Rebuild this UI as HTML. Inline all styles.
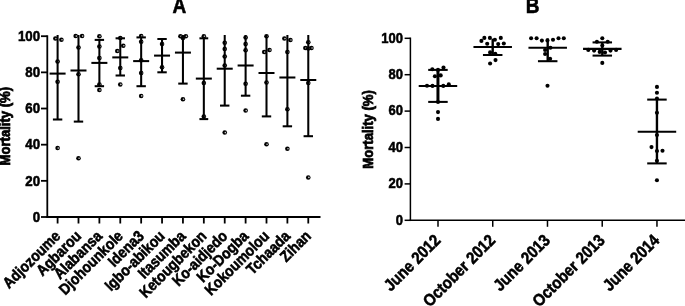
<!DOCTYPE html>
<html><head><meta charset="utf-8"><title>Mortality</title>
<style>
html,body{margin:0;padding:0;background:#fff;}
svg{display:block}
text{font-family:"Liberation Sans",Arial,Helvetica,sans-serif;font-weight:bold;fill:#000}
</style></head><body>
<svg width="685" height="306" viewBox="0 0 685 306">
<rect width="685" height="306" fill="#fff"/>
<line x1="47.30" y1="35.30" x2="47.30" y2="217.90" stroke="#000" stroke-width="1.8"/>
<line x1="46.40" y1="217.00" x2="320.50" y2="217.00" stroke="#000" stroke-width="1.8"/>
<line x1="41.00" y1="217.00" x2="47.30" y2="217.00" stroke="#000" stroke-width="1.8"/>
<text transform="translate(40.10 221.70) scale(1 1.13)" font-size="13.3" text-anchor="end" stroke="#000" stroke-width="0.5">0</text>
<line x1="41.00" y1="180.84" x2="47.30" y2="180.84" stroke="#000" stroke-width="1.8"/>
<text transform="translate(40.10 185.54) scale(1 1.13)" font-size="13.3" text-anchor="end" stroke="#000" stroke-width="0.5">20</text>
<line x1="41.00" y1="144.68" x2="47.30" y2="144.68" stroke="#000" stroke-width="1.8"/>
<text transform="translate(40.10 149.38) scale(1 1.13)" font-size="13.3" text-anchor="end" stroke="#000" stroke-width="0.5">40</text>
<line x1="41.00" y1="108.52" x2="47.30" y2="108.52" stroke="#000" stroke-width="1.8"/>
<text transform="translate(40.10 113.22) scale(1 1.13)" font-size="13.3" text-anchor="end" stroke="#000" stroke-width="0.5">60</text>
<line x1="41.00" y1="72.36" x2="47.30" y2="72.36" stroke="#000" stroke-width="1.8"/>
<text transform="translate(40.10 77.06) scale(1 1.13)" font-size="13.3" text-anchor="end" stroke="#000" stroke-width="0.5">80</text>
<line x1="41.00" y1="36.20" x2="47.30" y2="36.20" stroke="#000" stroke-width="1.8"/>
<text transform="translate(40.10 40.90) scale(1 1.13)" font-size="13.3" text-anchor="end" stroke="#000" stroke-width="0.5">100</text>
<line x1="57.60" y1="217.00" x2="57.60" y2="223.50" stroke="#000" stroke-width="1.8"/>
<text transform="translate(61.30 237.00) rotate(-45) scale(1 1.13)" font-size="13.7" text-anchor="end" stroke="#000" stroke-width="0.5">Adjozoume</text>
<line x1="78.49" y1="217.00" x2="78.49" y2="223.50" stroke="#000" stroke-width="1.8"/>
<text transform="translate(82.19 237.00) rotate(-45) scale(1 1.13)" font-size="13.7" text-anchor="end" stroke="#000" stroke-width="0.5">Agbarou</text>
<line x1="99.38" y1="217.00" x2="99.38" y2="223.50" stroke="#000" stroke-width="1.8"/>
<text transform="translate(103.08 237.00) rotate(-45) scale(1 1.13)" font-size="13.7" text-anchor="end" stroke="#000" stroke-width="0.5">Alabansa</text>
<line x1="120.27" y1="217.00" x2="120.27" y2="223.50" stroke="#000" stroke-width="1.8"/>
<text transform="translate(123.97 237.00) rotate(-45) scale(1 1.13)" font-size="13.7" text-anchor="end" stroke="#000" stroke-width="0.5">Djohounkole</text>
<line x1="141.16" y1="217.00" x2="141.16" y2="223.50" stroke="#000" stroke-width="1.8"/>
<text transform="translate(144.86 237.00) rotate(-45) scale(1 1.13)" font-size="13.7" text-anchor="end" stroke="#000" stroke-width="0.5">Idena3</text>
<line x1="162.05" y1="217.00" x2="162.05" y2="223.50" stroke="#000" stroke-width="1.8"/>
<text transform="translate(165.75 237.00) rotate(-45) scale(1 1.13)" font-size="13.7" text-anchor="end" stroke="#000" stroke-width="0.5">Igbo-abikou</text>
<line x1="182.94" y1="217.00" x2="182.94" y2="223.50" stroke="#000" stroke-width="1.8"/>
<text transform="translate(186.64 237.00) rotate(-45) scale(1 1.13)" font-size="13.7" text-anchor="end" stroke="#000" stroke-width="0.5">Itasumba</text>
<line x1="203.83" y1="217.00" x2="203.83" y2="223.50" stroke="#000" stroke-width="1.8"/>
<text transform="translate(207.53 237.00) rotate(-45) scale(1 1.13)" font-size="13.7" text-anchor="end" stroke="#000" stroke-width="0.5">Ketougbekon</text>
<line x1="224.72" y1="217.00" x2="224.72" y2="223.50" stroke="#000" stroke-width="1.8"/>
<text transform="translate(228.42 237.00) rotate(-45) scale(1 1.13)" font-size="13.7" text-anchor="end" stroke="#000" stroke-width="0.5">Ko-aidjedo</text>
<line x1="245.61" y1="217.00" x2="245.61" y2="223.50" stroke="#000" stroke-width="1.8"/>
<text transform="translate(249.31 237.00) rotate(-45) scale(1 1.13)" font-size="13.7" text-anchor="end" stroke="#000" stroke-width="0.5">Ko-Dogba</text>
<line x1="266.50" y1="217.00" x2="266.50" y2="223.50" stroke="#000" stroke-width="1.8"/>
<text transform="translate(270.20 237.00) rotate(-45) scale(1 1.13)" font-size="13.7" text-anchor="end" stroke="#000" stroke-width="0.5">Kokoumolou</text>
<line x1="287.39" y1="217.00" x2="287.39" y2="223.50" stroke="#000" stroke-width="1.8"/>
<text transform="translate(291.09 237.00) rotate(-45) scale(1 1.13)" font-size="13.7" text-anchor="end" stroke="#000" stroke-width="0.5">Tchaada</text>
<line x1="308.28" y1="217.00" x2="308.28" y2="223.50" stroke="#000" stroke-width="1.8"/>
<text transform="translate(311.98 237.00) rotate(-45) scale(1 1.13)" font-size="13.7" text-anchor="end" stroke="#000" stroke-width="0.5">Zihan</text>
<text transform="translate(9.50 126.20) rotate(-90) scale(1 1.06)" font-size="13.1" text-anchor="middle" stroke="#000" stroke-width="0.7">Mortality (%)</text>
<text transform="translate(179.30 13.30) scale(1 1.13)" font-size="19" text-anchor="middle" stroke="#000" stroke-width="0.5">A</text>
<ellipse cx="55.40" cy="38.60" rx="2.3" ry="2.25" fill="#000"/><circle cx="56.00" cy="38.60" r="0.8" fill="#c8c8c8"/>
<ellipse cx="61.40" cy="39.80" rx="2.3" ry="2.25" fill="#000"/><circle cx="62.00" cy="39.80" r="0.8" fill="#c8c8c8"/>
<ellipse cx="57.60" cy="61.50" rx="2.3" ry="2.25" fill="#000"/><circle cx="58.20" cy="61.50" r="0.8" fill="#c8c8c8"/>
<ellipse cx="57.60" cy="81.80" rx="2.3" ry="2.25" fill="#000"/><circle cx="58.20" cy="81.80" r="0.8" fill="#c8c8c8"/>
<ellipse cx="57.60" cy="148.10" rx="2.3" ry="2.25" fill="#000"/><circle cx="58.20" cy="148.10" r="0.8" fill="#c8c8c8"/>
<line x1="57.60" y1="35.00" x2="57.60" y2="119.50" stroke="#000" stroke-width="2.05"/>
<line x1="49.60" y1="73.60" x2="65.60" y2="73.60" stroke="#000" stroke-width="2.05"/>
<line x1="52.90" y1="119.50" x2="62.30" y2="119.50" stroke="#000" stroke-width="2.05"/>
<ellipse cx="75.69" cy="36.10" rx="2.3" ry="2.25" fill="#000"/><circle cx="76.29" cy="36.10" r="0.8" fill="#c8c8c8"/>
<ellipse cx="82.09" cy="36.10" rx="2.3" ry="2.25" fill="#000"/><circle cx="82.69" cy="36.10" r="0.8" fill="#c8c8c8"/>
<ellipse cx="78.49" cy="47.50" rx="2.3" ry="2.25" fill="#000"/><circle cx="79.09" cy="47.50" r="0.8" fill="#c8c8c8"/>
<ellipse cx="78.49" cy="74.30" rx="2.3" ry="2.25" fill="#000"/><circle cx="79.09" cy="74.30" r="0.8" fill="#c8c8c8"/>
<ellipse cx="78.49" cy="158.20" rx="2.3" ry="2.25" fill="#000"/><circle cx="79.09" cy="158.20" r="0.8" fill="#c8c8c8"/>
<line x1="78.49" y1="35.00" x2="78.49" y2="121.60" stroke="#000" stroke-width="2.05"/>
<line x1="70.49" y1="70.50" x2="86.49" y2="70.50" stroke="#000" stroke-width="2.05"/>
<line x1="73.79" y1="121.60" x2="83.19" y2="121.60" stroke="#000" stroke-width="2.05"/>
<ellipse cx="99.38" cy="36.30" rx="2.3" ry="2.25" fill="#000"/><circle cx="99.98" cy="36.30" r="0.8" fill="#c8c8c8"/>
<ellipse cx="99.38" cy="46.60" rx="2.3" ry="2.25" fill="#000"/><circle cx="99.98" cy="46.60" r="0.8" fill="#c8c8c8"/>
<ellipse cx="99.38" cy="57.90" rx="2.3" ry="2.25" fill="#000"/><circle cx="99.98" cy="57.90" r="0.8" fill="#c8c8c8"/>
<ellipse cx="99.38" cy="84.40" rx="2.3" ry="2.25" fill="#000"/><circle cx="99.98" cy="84.40" r="0.8" fill="#c8c8c8"/>
<ellipse cx="99.38" cy="90.10" rx="2.3" ry="2.25" fill="#000"/><circle cx="99.98" cy="90.10" r="0.8" fill="#c8c8c8"/>
<line x1="99.38" y1="39.90" x2="99.38" y2="86.20" stroke="#000" stroke-width="2.05"/>
<line x1="91.38" y1="62.90" x2="107.38" y2="62.90" stroke="#000" stroke-width="2.05"/>
<line x1="94.68" y1="86.20" x2="104.08" y2="86.20" stroke="#000" stroke-width="2.05"/>
<line x1="94.68" y1="39.90" x2="104.08" y2="39.90" stroke="#000" stroke-width="2.05"/>
<ellipse cx="120.27" cy="38.10" rx="2.3" ry="2.25" fill="#000"/><circle cx="120.87" cy="38.10" r="0.8" fill="#c8c8c8"/>
<ellipse cx="123.27" cy="45.80" rx="2.3" ry="2.25" fill="#000"/><circle cx="123.87" cy="45.80" r="0.8" fill="#c8c8c8"/>
<ellipse cx="117.27" cy="51.10" rx="2.3" ry="2.25" fill="#000"/><circle cx="117.87" cy="51.10" r="0.8" fill="#c8c8c8"/>
<ellipse cx="120.27" cy="68.00" rx="2.3" ry="2.25" fill="#000"/><circle cx="120.87" cy="68.00" r="0.8" fill="#c8c8c8"/>
<ellipse cx="120.27" cy="84.40" rx="2.3" ry="2.25" fill="#000"/><circle cx="120.87" cy="84.40" r="0.8" fill="#c8c8c8"/>
<line x1="120.27" y1="38.30" x2="120.27" y2="75.50" stroke="#000" stroke-width="2.05"/>
<line x1="112.27" y1="57.40" x2="128.27" y2="57.40" stroke="#000" stroke-width="2.05"/>
<line x1="115.57" y1="75.50" x2="124.97" y2="75.50" stroke="#000" stroke-width="2.05"/>
<line x1="115.57" y1="38.30" x2="124.97" y2="38.30" stroke="#000" stroke-width="2.05"/>
<ellipse cx="141.16" cy="36.00" rx="2.3" ry="2.25" fill="#000"/><circle cx="141.76" cy="36.00" r="0.8" fill="#c8c8c8"/>
<ellipse cx="141.16" cy="41.70" rx="2.3" ry="2.25" fill="#000"/><circle cx="141.76" cy="41.70" r="0.8" fill="#c8c8c8"/>
<ellipse cx="141.16" cy="60.30" rx="2.3" ry="2.25" fill="#000"/><circle cx="141.76" cy="60.30" r="0.8" fill="#c8c8c8"/>
<ellipse cx="141.16" cy="73.00" rx="2.3" ry="2.25" fill="#000"/><circle cx="141.76" cy="73.00" r="0.8" fill="#c8c8c8"/>
<ellipse cx="141.16" cy="95.90" rx="2.3" ry="2.25" fill="#000"/><circle cx="141.76" cy="95.90" r="0.8" fill="#c8c8c8"/>
<line x1="141.16" y1="37.40" x2="141.16" y2="86.20" stroke="#000" stroke-width="2.05"/>
<line x1="133.16" y1="61.10" x2="149.16" y2="61.10" stroke="#000" stroke-width="2.05"/>
<line x1="136.46" y1="86.20" x2="145.86" y2="86.20" stroke="#000" stroke-width="2.05"/>
<line x1="136.46" y1="37.40" x2="145.86" y2="37.40" stroke="#000" stroke-width="2.05"/>
<ellipse cx="162.05" cy="44.00" rx="2.3" ry="2.25" fill="#000"/><circle cx="162.65" cy="44.00" r="0.8" fill="#c8c8c8"/>
<ellipse cx="162.05" cy="67.30" rx="2.3" ry="2.25" fill="#000"/><circle cx="162.65" cy="67.30" r="0.8" fill="#c8c8c8"/>
<line x1="162.05" y1="39.00" x2="162.05" y2="72.30" stroke="#000" stroke-width="2.05"/>
<line x1="154.05" y1="55.60" x2="170.05" y2="55.60" stroke="#000" stroke-width="2.05"/>
<line x1="157.35" y1="72.30" x2="166.75" y2="72.30" stroke="#000" stroke-width="2.05"/>
<line x1="157.35" y1="39.00" x2="166.75" y2="39.00" stroke="#000" stroke-width="2.05"/>
<ellipse cx="180.44" cy="36.30" rx="2.3" ry="2.25" fill="#000"/><circle cx="181.04" cy="36.30" r="0.8" fill="#c8c8c8"/>
<ellipse cx="182.94" cy="38.10" rx="2.3" ry="2.25" fill="#000"/><circle cx="183.54" cy="38.10" r="0.8" fill="#c8c8c8"/>
<ellipse cx="185.84" cy="36.30" rx="2.3" ry="2.25" fill="#000"/><circle cx="186.44" cy="36.30" r="0.8" fill="#c8c8c8"/>
<ellipse cx="182.94" cy="99.30" rx="2.3" ry="2.25" fill="#000"/><circle cx="183.54" cy="99.30" r="0.8" fill="#c8c8c8"/>
<line x1="182.94" y1="35.00" x2="182.94" y2="83.60" stroke="#000" stroke-width="2.05"/>
<line x1="174.94" y1="52.60" x2="190.94" y2="52.60" stroke="#000" stroke-width="2.05"/>
<line x1="178.24" y1="83.60" x2="187.64" y2="83.60" stroke="#000" stroke-width="2.05"/>
<ellipse cx="203.83" cy="36.30" rx="2.3" ry="2.25" fill="#000"/><circle cx="204.43" cy="36.30" r="0.8" fill="#c8c8c8"/>
<ellipse cx="203.83" cy="83.10" rx="2.3" ry="2.25" fill="#000"/><circle cx="204.43" cy="83.10" r="0.8" fill="#c8c8c8"/>
<ellipse cx="203.83" cy="116.40" rx="2.3" ry="2.25" fill="#000"/><circle cx="204.43" cy="116.40" r="0.8" fill="#c8c8c8"/>
<line x1="203.83" y1="38.30" x2="203.83" y2="119.10" stroke="#000" stroke-width="2.05"/>
<line x1="195.83" y1="78.60" x2="211.83" y2="78.60" stroke="#000" stroke-width="2.05"/>
<line x1="199.43" y1="119.10" x2="208.23" y2="119.10" stroke="#000" stroke-width="2.05"/>
<line x1="199.43" y1="38.30" x2="208.23" y2="38.30" stroke="#000" stroke-width="2.05"/>
<ellipse cx="224.72" cy="42.80" rx="2.3" ry="2.25" fill="#000"/><circle cx="225.32" cy="42.80" r="0.8" fill="#c8c8c8"/>
<ellipse cx="224.72" cy="49.10" rx="2.3" ry="2.25" fill="#000"/><circle cx="225.32" cy="49.10" r="0.8" fill="#c8c8c8"/>
<ellipse cx="224.72" cy="56.50" rx="2.3" ry="2.25" fill="#000"/><circle cx="225.32" cy="56.50" r="0.8" fill="#c8c8c8"/>
<ellipse cx="224.72" cy="65.50" rx="2.3" ry="2.25" fill="#000"/><circle cx="225.32" cy="65.50" r="0.8" fill="#c8c8c8"/>
<ellipse cx="224.72" cy="132.60" rx="2.3" ry="2.25" fill="#000"/><circle cx="225.32" cy="132.60" r="0.8" fill="#c8c8c8"/>
<line x1="224.72" y1="35.00" x2="224.72" y2="105.60" stroke="#000" stroke-width="2.05"/>
<line x1="216.72" y1="68.70" x2="232.72" y2="68.70" stroke="#000" stroke-width="2.05"/>
<line x1="220.02" y1="105.60" x2="229.42" y2="105.60" stroke="#000" stroke-width="2.05"/>
<ellipse cx="245.61" cy="37.40" rx="2.3" ry="2.25" fill="#000"/><circle cx="246.21" cy="37.40" r="0.8" fill="#c8c8c8"/>
<ellipse cx="245.61" cy="44.00" rx="2.3" ry="2.25" fill="#000"/><circle cx="246.21" cy="44.00" r="0.8" fill="#c8c8c8"/>
<ellipse cx="245.61" cy="50.30" rx="2.3" ry="2.25" fill="#000"/><circle cx="246.21" cy="50.30" r="0.8" fill="#c8c8c8"/>
<ellipse cx="245.61" cy="83.80" rx="2.3" ry="2.25" fill="#000"/><circle cx="246.21" cy="83.80" r="0.8" fill="#c8c8c8"/>
<ellipse cx="245.61" cy="110.60" rx="2.3" ry="2.25" fill="#000"/><circle cx="246.21" cy="110.60" r="0.8" fill="#c8c8c8"/>
<line x1="245.61" y1="35.00" x2="245.61" y2="95.70" stroke="#000" stroke-width="2.05"/>
<line x1="237.61" y1="65.50" x2="253.61" y2="65.50" stroke="#000" stroke-width="2.05"/>
<line x1="240.91" y1="95.70" x2="250.31" y2="95.70" stroke="#000" stroke-width="2.05"/>
<ellipse cx="266.50" cy="36.30" rx="2.3" ry="2.25" fill="#000"/><circle cx="267.10" cy="36.30" r="0.8" fill="#c8c8c8"/>
<ellipse cx="264.20" cy="52.10" rx="2.3" ry="2.25" fill="#000"/><circle cx="264.80" cy="52.10" r="0.8" fill="#c8c8c8"/>
<ellipse cx="269.50" cy="50.00" rx="2.3" ry="2.25" fill="#000"/><circle cx="270.10" cy="50.00" r="0.8" fill="#c8c8c8"/>
<ellipse cx="266.50" cy="82.60" rx="2.3" ry="2.25" fill="#000"/><circle cx="267.10" cy="82.60" r="0.8" fill="#c8c8c8"/>
<ellipse cx="266.50" cy="144.30" rx="2.3" ry="2.25" fill="#000"/><circle cx="267.10" cy="144.30" r="0.8" fill="#c8c8c8"/>
<line x1="266.50" y1="35.00" x2="266.50" y2="116.40" stroke="#000" stroke-width="2.05"/>
<line x1="258.50" y1="73.00" x2="274.50" y2="73.00" stroke="#000" stroke-width="2.05"/>
<line x1="261.80" y1="116.40" x2="271.20" y2="116.40" stroke="#000" stroke-width="2.05"/>
<ellipse cx="284.39" cy="38.60" rx="2.3" ry="2.25" fill="#000"/><circle cx="284.99" cy="38.60" r="0.8" fill="#c8c8c8"/>
<ellipse cx="290.39" cy="40.00" rx="2.3" ry="2.25" fill="#000"/><circle cx="290.99" cy="40.00" r="0.8" fill="#c8c8c8"/>
<ellipse cx="287.39" cy="52.10" rx="2.3" ry="2.25" fill="#000"/><circle cx="287.99" cy="52.10" r="0.8" fill="#c8c8c8"/>
<ellipse cx="287.39" cy="109.20" rx="2.3" ry="2.25" fill="#000"/><circle cx="287.99" cy="109.20" r="0.8" fill="#c8c8c8"/>
<ellipse cx="287.39" cy="148.80" rx="2.3" ry="2.25" fill="#000"/><circle cx="287.99" cy="148.80" r="0.8" fill="#c8c8c8"/>
<line x1="287.39" y1="35.00" x2="287.39" y2="126.30" stroke="#000" stroke-width="2.05"/>
<line x1="279.39" y1="77.50" x2="295.39" y2="77.50" stroke="#000" stroke-width="2.05"/>
<line x1="282.69" y1="126.30" x2="292.09" y2="126.30" stroke="#000" stroke-width="2.05"/>
<ellipse cx="308.28" cy="42.20" rx="2.3" ry="2.25" fill="#000"/><circle cx="308.88" cy="42.20" r="0.8" fill="#c8c8c8"/>
<ellipse cx="305.38" cy="48.00" rx="2.3" ry="2.25" fill="#000"/><circle cx="305.98" cy="48.00" r="0.8" fill="#c8c8c8"/>
<ellipse cx="308.28" cy="48.40" rx="2.3" ry="2.25" fill="#000"/><circle cx="308.88" cy="48.40" r="0.8" fill="#c8c8c8"/>
<ellipse cx="311.48" cy="48.00" rx="2.3" ry="2.25" fill="#000"/><circle cx="312.08" cy="48.00" r="0.8" fill="#c8c8c8"/>
<ellipse cx="308.28" cy="83.10" rx="2.3" ry="2.25" fill="#000"/><circle cx="308.88" cy="83.10" r="0.8" fill="#c8c8c8"/>
<ellipse cx="308.28" cy="177.40" rx="2.3" ry="2.25" fill="#000"/><circle cx="308.88" cy="177.40" r="0.8" fill="#c8c8c8"/>
<line x1="308.28" y1="35.00" x2="308.28" y2="136.20" stroke="#000" stroke-width="2.05"/>
<line x1="300.28" y1="80.00" x2="316.28" y2="80.00" stroke="#000" stroke-width="2.05"/>
<line x1="303.58" y1="136.20" x2="312.98" y2="136.20" stroke="#000" stroke-width="2.05"/>
<line x1="410.40" y1="37.55" x2="410.40" y2="221.05" stroke="#000" stroke-width="1.5"/>
<line x1="409.65" y1="220.30" x2="685.00" y2="220.30" stroke="#000" stroke-width="1.5"/>
<line x1="404.60" y1="220.30" x2="410.40" y2="220.30" stroke="#000" stroke-width="1.5"/>
<text transform="translate(402.90 224.60) scale(1 1.13)" font-size="13" text-anchor="end" stroke="#000" stroke-width="0.5">0</text>
<line x1="404.60" y1="183.90" x2="410.40" y2="183.90" stroke="#000" stroke-width="1.5"/>
<text transform="translate(402.90 188.20) scale(1 1.13)" font-size="13" text-anchor="end" stroke="#000" stroke-width="0.5">20</text>
<line x1="404.60" y1="147.50" x2="410.40" y2="147.50" stroke="#000" stroke-width="1.5"/>
<text transform="translate(402.90 151.80) scale(1 1.13)" font-size="13" text-anchor="end" stroke="#000" stroke-width="0.5">40</text>
<line x1="404.60" y1="111.10" x2="410.40" y2="111.10" stroke="#000" stroke-width="1.5"/>
<text transform="translate(402.90 115.40) scale(1 1.13)" font-size="13" text-anchor="end" stroke="#000" stroke-width="0.5">60</text>
<line x1="404.60" y1="74.70" x2="410.40" y2="74.70" stroke="#000" stroke-width="1.5"/>
<text transform="translate(402.90 79.00) scale(1 1.13)" font-size="13" text-anchor="end" stroke="#000" stroke-width="0.5">80</text>
<line x1="404.60" y1="38.30" x2="410.40" y2="38.30" stroke="#000" stroke-width="1.5"/>
<text transform="translate(402.90 42.60) scale(1 1.13)" font-size="13" text-anchor="end" stroke="#000" stroke-width="0.5">100</text>
<line x1="438.00" y1="220.30" x2="438.00" y2="226.80" stroke="#000" stroke-width="1.5"/>
<text transform="translate(441.50 241.30) rotate(-45) scale(1 1.13)" font-size="14.85" text-anchor="end" stroke="#000" stroke-width="0.5">June 2012</text>
<line x1="492.74" y1="220.30" x2="492.74" y2="226.80" stroke="#000" stroke-width="1.5"/>
<text transform="translate(496.24 241.30) rotate(-45) scale(1 1.13)" font-size="14.85" text-anchor="end" stroke="#000" stroke-width="0.5">October 2012</text>
<line x1="547.48" y1="220.30" x2="547.48" y2="226.80" stroke="#000" stroke-width="1.5"/>
<text transform="translate(550.98 241.30) rotate(-45) scale(1 1.13)" font-size="14.85" text-anchor="end" stroke="#000" stroke-width="0.5">June 2013</text>
<line x1="602.22" y1="220.30" x2="602.22" y2="226.80" stroke="#000" stroke-width="1.5"/>
<text transform="translate(605.72 241.30) rotate(-45) scale(1 1.13)" font-size="14.85" text-anchor="end" stroke="#000" stroke-width="0.5">October 2013</text>
<line x1="656.96" y1="220.30" x2="656.96" y2="226.80" stroke="#000" stroke-width="1.5"/>
<text transform="translate(660.46 241.30) rotate(-45) scale(1 1.13)" font-size="14.85" text-anchor="end" stroke="#000" stroke-width="0.5">June 2014</text>
<text transform="translate(373.30 129.40) rotate(-90) scale(1 1.06)" font-size="13.1" text-anchor="middle" stroke="#000" stroke-width="0.7">Mortality (%)</text>
<text transform="translate(532.50 13.30) scale(1 1.13)" font-size="19" text-anchor="middle" stroke="#000" stroke-width="0.5">B</text>
<circle cx="432.30" cy="69.30" r="2.05" fill="#000"/>
<circle cx="438.00" cy="69.90" r="2.05" fill="#000"/>
<circle cx="443.50" cy="67.50" r="2.05" fill="#000"/>
<circle cx="434.90" cy="76.30" r="2.05" fill="#000"/>
<circle cx="440.70" cy="75.40" r="2.05" fill="#000"/>
<circle cx="427.00" cy="85.80" r="2.05" fill="#000"/>
<circle cx="432.50" cy="85.90" r="2.05" fill="#000"/>
<circle cx="443.30" cy="85.90" r="2.05" fill="#000"/>
<circle cx="448.80" cy="84.40" r="2.05" fill="#000"/>
<circle cx="438.00" cy="102.00" r="2.05" fill="#000"/>
<circle cx="438.00" cy="112.10" r="2.05" fill="#000"/>
<circle cx="438.00" cy="118.90" r="2.05" fill="#000"/>
<line x1="437.95" y1="69.90" x2="437.95" y2="101.90" stroke="#000" stroke-width="3.0"/>
<line x1="418.70" y1="85.90" x2="457.20" y2="85.90" stroke="#000" stroke-width="2.05"/>
<line x1="428.20" y1="101.90" x2="447.70" y2="101.90" stroke="#000" stroke-width="2.05"/>
<line x1="428.20" y1="69.90" x2="447.70" y2="69.90" stroke="#000" stroke-width="2.05"/>
<circle cx="484.35" cy="37.90" r="2.05" fill="#000"/>
<circle cx="489.90" cy="37.90" r="2.05" fill="#000"/>
<circle cx="500.80" cy="37.90" r="2.05" fill="#000"/>
<circle cx="481.40" cy="40.90" r="2.05" fill="#000"/>
<circle cx="494.90" cy="39.70" r="2.05" fill="#000"/>
<circle cx="487.20" cy="43.80" r="2.05" fill="#000"/>
<circle cx="498.20" cy="44.10" r="2.05" fill="#000"/>
<circle cx="503.80" cy="43.50" r="2.05" fill="#000"/>
<circle cx="490.10" cy="52.40" r="2.05" fill="#000"/>
<circle cx="495.30" cy="53.70" r="2.05" fill="#000"/>
<circle cx="495.50" cy="60.10" r="2.05" fill="#000"/>
<circle cx="490.10" cy="63.50" r="2.05" fill="#000"/>
<line x1="492.70" y1="38.70" x2="492.70" y2="55.00" stroke="#000" stroke-width="2.4"/>
<line x1="473.45" y1="46.90" x2="511.95" y2="46.90" stroke="#000" stroke-width="2.05"/>
<line x1="482.95" y1="55.00" x2="502.45" y2="55.00" stroke="#000" stroke-width="2.05"/>
<circle cx="531.10" cy="38.30" r="2.05" fill="#000"/>
<circle cx="536.60" cy="38.20" r="2.05" fill="#000"/>
<circle cx="541.90" cy="40.60" r="2.05" fill="#000"/>
<circle cx="547.45" cy="40.40" r="2.05" fill="#000"/>
<circle cx="553.00" cy="39.70" r="2.05" fill="#000"/>
<circle cx="558.50" cy="38.20" r="2.05" fill="#000"/>
<circle cx="563.80" cy="38.20" r="2.05" fill="#000"/>
<circle cx="550.40" cy="47.80" r="2.05" fill="#000"/>
<circle cx="545.10" cy="50.00" r="2.05" fill="#000"/>
<circle cx="545.10" cy="54.00" r="2.05" fill="#000"/>
<circle cx="550.10" cy="58.70" r="2.05" fill="#000"/>
<circle cx="547.50" cy="85.70" r="2.05" fill="#000"/>
<line x1="547.70" y1="38.50" x2="547.70" y2="61.20" stroke="#000" stroke-width="2.4"/>
<line x1="528.45" y1="47.70" x2="566.95" y2="47.70" stroke="#000" stroke-width="2.05"/>
<line x1="537.95" y1="61.20" x2="557.45" y2="61.20" stroke="#000" stroke-width="2.05"/>
<circle cx="602.30" cy="38.20" r="2.05" fill="#000"/>
<circle cx="596.90" cy="41.80" r="2.05" fill="#000"/>
<circle cx="607.70" cy="41.80" r="2.05" fill="#000"/>
<circle cx="602.30" cy="45.50" r="2.05" fill="#000"/>
<circle cx="588.30" cy="49.90" r="2.05" fill="#000"/>
<circle cx="594.10" cy="50.60" r="2.05" fill="#000"/>
<circle cx="599.70" cy="51.90" r="2.05" fill="#000"/>
<circle cx="605.00" cy="52.50" r="2.05" fill="#000"/>
<circle cx="610.50" cy="50.60" r="2.05" fill="#000"/>
<circle cx="616.10" cy="49.90" r="2.05" fill="#000"/>
<circle cx="602.30" cy="62.90" r="2.05" fill="#000"/>
<line x1="602.30" y1="42.40" x2="602.30" y2="55.60" stroke="#000" stroke-width="2.4"/>
<line x1="583.05" y1="48.85" x2="621.55" y2="48.85" stroke="#000" stroke-width="2.05"/>
<line x1="592.55" y1="55.60" x2="612.05" y2="55.60" stroke="#000" stroke-width="2.05"/>
<line x1="592.55" y1="42.40" x2="612.05" y2="42.40" stroke="#000" stroke-width="2.05"/>
<circle cx="656.95" cy="86.90" r="2.05" fill="#000"/>
<circle cx="656.95" cy="92.80" r="2.05" fill="#000"/>
<circle cx="656.95" cy="98.50" r="2.05" fill="#000"/>
<circle cx="656.95" cy="112.80" r="2.05" fill="#000"/>
<circle cx="656.95" cy="135.00" r="2.05" fill="#000"/>
<circle cx="651.50" cy="147.10" r="2.05" fill="#000"/>
<circle cx="656.95" cy="151.00" r="2.05" fill="#000"/>
<circle cx="662.50" cy="150.80" r="2.05" fill="#000"/>
<circle cx="656.95" cy="160.70" r="2.05" fill="#000"/>
<circle cx="656.95" cy="180.20" r="2.05" fill="#000"/>
<line x1="656.95" y1="99.60" x2="656.95" y2="163.40" stroke="#000" stroke-width="2.4"/>
<line x1="637.70" y1="131.80" x2="676.20" y2="131.80" stroke="#000" stroke-width="2.05"/>
<line x1="647.20" y1="163.40" x2="666.70" y2="163.40" stroke="#000" stroke-width="2.05"/>
<line x1="647.20" y1="99.60" x2="666.70" y2="99.60" stroke="#000" stroke-width="2.05"/>
</svg>
</body></html>
